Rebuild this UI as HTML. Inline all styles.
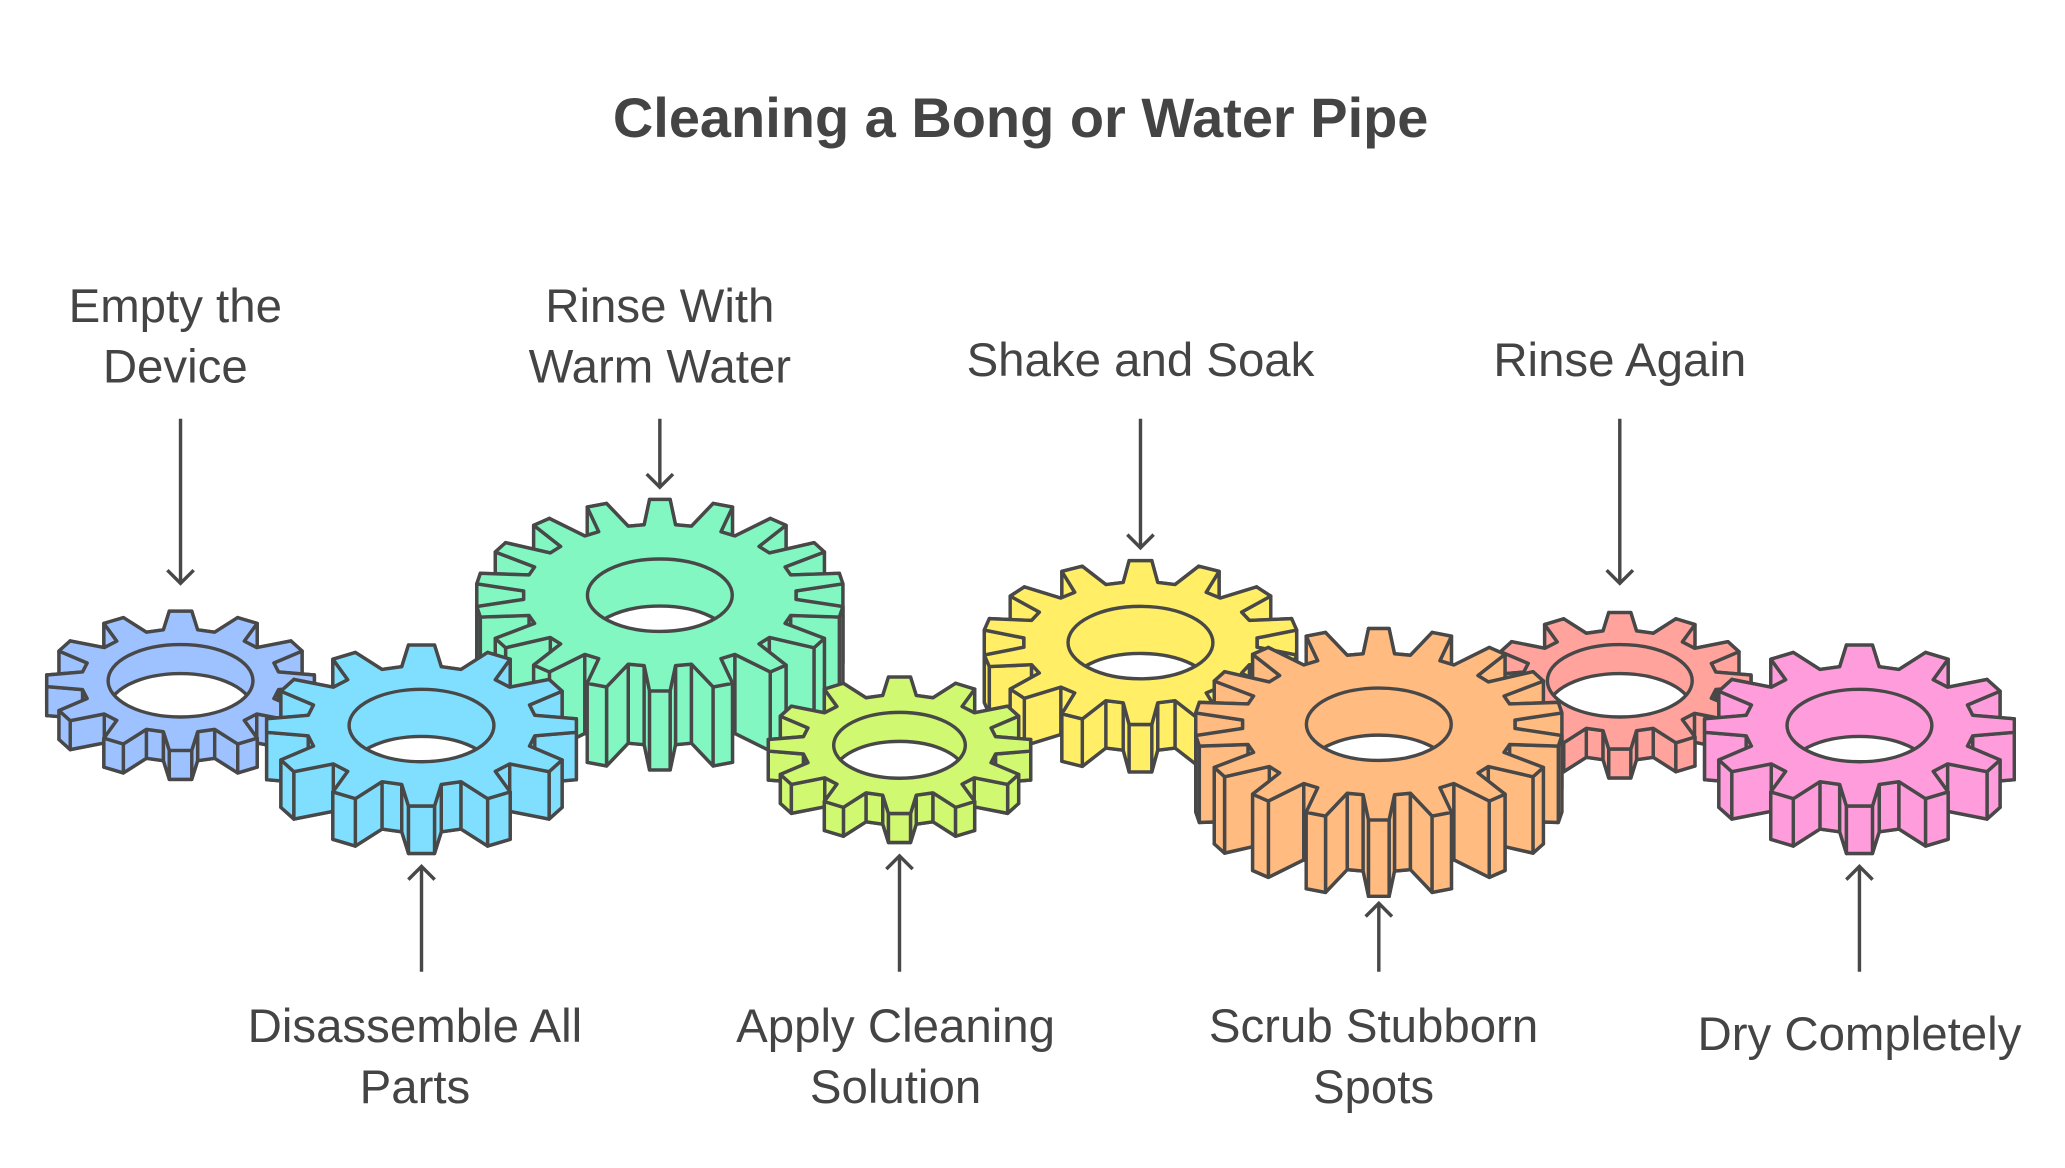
<!DOCTYPE html>
<html><head><meta charset="utf-8"><style>
html,body{margin:0;padding:0;background:#fff;}
svg{display:block;}
text{font-family:"Liberation Sans",sans-serif;fill:#444;}
</style></head><body>
<svg id="s" width="2065" height="1168" viewBox="0 0 1568 887" xmlns="http://www.w3.org/2000/svg">
<rect width="1568" height="887" fill="#fff"/>
<text x="775" y="93" font-size="42.5" font-weight="bold" text-anchor="middle" dominant-baseline="middle">Cleaning a Bong or Water Pipe</text>
<g id="gears"></g>
<g stroke="#484848" stroke-width="2.6" fill="none">
<line x1="137" y1="318" x2="137" y2="443"/><path d="M127 433 L137 443 L147 433"/>
<line x1="501" y1="318" x2="501" y2="370"/><path d="M491 360 L501 370 L511 360"/>
<line x1="866" y1="318" x2="866" y2="416"/><path d="M856 406 L866 416 L876 406"/>
<line x1="1230" y1="318" x2="1230" y2="443"/><path d="M1220 433 L1230 443 L1240 433"/>
<line x1="320" y1="738" x2="320" y2="658"/><path d="M310 668 L320 658 L330 668"/>
<line x1="683" y1="738" x2="683" y2="650"/><path d="M673 660 L683 650 L693 660"/>
<line x1="1047" y1="738" x2="1047" y2="686"/><path d="M1037 696 L1047 686 L1057 696"/>
<line x1="1412" y1="738" x2="1412" y2="658"/><path d="M1402 668 L1412 658 L1422 668"/>
</g>
<g font-size="36" text-anchor="middle" dominant-baseline="middle">
<text x="133" y="235">Empty the</text><text x="133" y="281">Device</text>
<text x="501" y="235">Rinse With</text><text x="501" y="281">Warm Water</text>
<text x="866" y="276">Shake and Soak</text>
<text x="1230" y="276">Rinse Again</text>
<text x="315" y="782">Disassemble All</text><text x="315" y="828">Parts</text>
<text x="680" y="782">Apply Cleaning</text><text x="680" y="828">Solution</text>
<text x="1043" y="782">Scrub Stubborn</text><text x="1043" y="828">Spots</text>
<text x="1412" y="788">Dry Completely</text>
</g>
</svg>
<script>
(function(){
var NS="http://www.w3.org/2000/svg";
var g=document.getElementById("gears");
var K=0.52, SC="#484848", SW=2.6;
var gears=[
[501,452,140,18,60,"#82F7C2",55],
[866,488,120,14,36,"#FFEE66",55],
[1230,517,100,12,22,"#FFA39C",55],
[137,517,102,12,22,"#9EC2FF",55],
[320,551,118,12,36,"#80DFFF",55],
[683,566,100,12,22,"#D0F870",50],
[1047,550,140,18,58,"#FFBB80",55],
[1412,551,118,12,36,"#FF9CDC",55]
];
var id=0;
function el(n,a){var e=document.createElementNS(NS,n);for(var k in a)e.setAttribute(k,a[k]);return e;}
gears.forEach(function(p){
 var cx=p[0],cy=p[1],R=p[2],N=p[3],h=p[4],c=p[5],hr=p[6];
 var r=R*0.74, pts=[], step=2*Math.PI/N;
 for(var i=0;i<N;i++){
  var a=i*step-Math.PI/2;
  var f=[-0.33,-0.16,0.16,0.33];
  var rr=[r,R,R,r];
  for(var j=0;j<4;j++){
   var t=a+f[j]*step;
   pts.push([cx+rr[j]*Math.cos(t),cy+rr[j]*Math.sin(t)*K]);
  }
 }
 var grp=el("g",{});
 var ps=function(arr,dy){return arr.map(function(q){return q[0].toFixed(1)+","+(q[1]+dy).toFixed(1);}).join(" ");};
 grp.appendChild(el("polygon",{points:ps(pts,h),fill:c,stroke:SC,"stroke-width":SW,"stroke-linejoin":"round"}));
 var quads=[];
 for(var i=0;i<pts.length;i++){
  var A=pts[i],B=pts[(i+1)%pts.length];
  quads.push([A,B,(A[1]+B[1])/2]);
 }
 quads.sort(function(a,b){return a[2]-b[2];});
 quads.forEach(function(q){
  var A=q[0],B=q[1];
  var d="M"+A[0]+","+A[1]+" L"+B[0]+","+B[1]+" L"+B[0]+","+(B[1]+h)+" L"+A[0]+","+(A[1]+h)+"Z";
  grp.appendChild(el("path",{d:d,fill:c,stroke:SC,"stroke-width":SW,"stroke-linejoin":"round"}));
 });
 grp.appendChild(el("polygon",{points:ps(pts,0),fill:c,stroke:SC,"stroke-width":SW,"stroke-linejoin":"round"}));
 var hry=hr*0.5;
 id++;
 var cp=el("clipPath",{id:"c"+id});cp.appendChild(el("ellipse",{cx:cx,cy:cy,rx:hr,ry:hry}));
 grp.appendChild(cp);
 grp.appendChild(el("ellipse",{cx:cx,cy:cy,rx:hr,ry:hry,fill:c}));
 var ig=el("g",{"clip-path":"url(#c"+id+")"});
 ig.appendChild(el("ellipse",{cx:cx,cy:cy+Math.min(h,hry*1.3),rx:hr,ry:hry,fill:"#fff",stroke:SC,"stroke-width":SW}));
 grp.appendChild(ig);
 grp.appendChild(el("ellipse",{cx:cx,cy:cy,rx:hr,ry:hry,fill:"none",stroke:SC,"stroke-width":SW}));
 g.appendChild(grp);
});
})();
</script>
</body></html>
